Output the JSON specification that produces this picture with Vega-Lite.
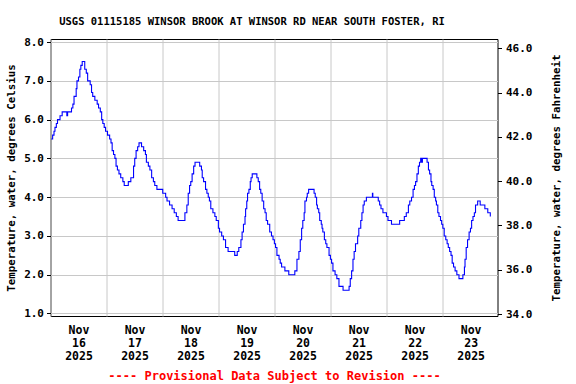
{
 "$schema": "https://vega.github.io/schema/vega-lite/v6.json",
 "width": 447,
 "height": 277,
 "autosize": {"type": "none"},
 "padding": {"left": 50.5, "top": 39, "right": 78.5, "bottom": 68},
 "background": "white",
 "title": {"text": "USGS 01115185 WINSOR BROOK AT WINSOR RD NEAR SOUTH FOSTER, RI", "font": "DejaVu Sans Mono", "fontSize": 10.5, "fontWeight": "bold", "color": "black", "anchor": "middle", "frame": "group", "dx": -22, "offset": 1, "baseline": "alphabetic"},
 "config": {"view": {"stroke": "black", "strokeWidth": 1}},
 "layer": [
  {
   "data": {"values": [
{"t":"2025-11-16T00:20","c":5.5},{"t":"2025-11-16T00:55","c":5.6},{"t":"2025-11-16T01:30","c":5.7},{"t":"2025-11-16T01:55","c":5.8},{"t":"2025-11-16T02:30","c":5.9},{"t":"2025-11-16T03:00","c":6.0},{"t":"2025-11-16T04:05","c":6.1},{"t":"2025-11-16T05:00","c":6.2},{"t":"2025-11-16T06:50","c":6.2},{"t":"2025-11-16T07:00","c":6.1},{"t":"2025-11-16T07:20","c":6.2},{"t":"2025-11-16T08:40","c":6.2},{"t":"2025-11-16T09:00","c":6.3},{"t":"2025-11-16T09:35","c":6.4},{"t":"2025-11-16T10:05","c":6.6},{"t":"2025-11-16T11:00","c":6.8},{"t":"2025-11-16T11:20","c":7.0},{"t":"2025-11-16T12:00","c":7.1},{"t":"2025-11-16T12:35","c":7.3},{"t":"2025-11-16T13:00","c":7.4},{"t":"2025-11-16T13:35","c":7.5},{"t":"2025-11-16T14:05","c":7.5},{"t":"2025-11-16T14:40","c":7.3},{"t":"2025-11-16T15:20","c":7.2},{"t":"2025-11-16T15:55","c":7.0},{"t":"2025-11-16T17:00","c":6.9},{"t":"2025-11-16T17:35","c":6.7},{"t":"2025-11-16T18:05","c":6.6},{"t":"2025-11-16T19:00","c":6.5},{"t":"2025-11-16T20:00","c":6.4},{"t":"2025-11-16T20:35","c":6.3},{"t":"2025-11-16T21:20","c":6.2},{"t":"2025-11-16T21:55","c":6.0},{"t":"2025-11-16T22:25","c":5.9},{"t":"2025-11-16T23:00","c":5.8},{"t":"2025-11-16T23:35","c":5.7},
{"t":"2025-11-17T00:25","c":5.6},{"t":"2025-11-17T01:20","c":5.5},{"t":"2025-11-17T01:55","c":5.4},{"t":"2025-11-17T02:25","c":5.2},{"t":"2025-11-17T03:00","c":5.1},{"t":"2025-11-17T03:35","c":5.0},{"t":"2025-11-17T04:05","c":4.8},{"t":"2025-11-17T04:40","c":4.7},{"t":"2025-11-17T05:20","c":4.6},{"t":"2025-11-17T06:05","c":4.5},{"t":"2025-11-17T07:00","c":4.4},{"t":"2025-11-17T07:35","c":4.3},{"t":"2025-11-17T09:00","c":4.3},{"t":"2025-11-17T09:20","c":4.4},{"t":"2025-11-17T10:05","c":4.4},{"t":"2025-11-17T10:25","c":4.5},{"t":"2025-11-17T11:20","c":4.5},{"t":"2025-11-17T11:35","c":4.8},{"t":"2025-11-17T12:05","c":5.0},{"t":"2025-11-17T12:40","c":5.2},{"t":"2025-11-17T13:20","c":5.3},{"t":"2025-11-17T13:55","c":5.4},{"t":"2025-11-17T14:40","c":5.4},{"t":"2025-11-17T15:00","c":5.3},{"t":"2025-11-17T15:55","c":5.2},{"t":"2025-11-17T16:40","c":5.1},{"t":"2025-11-17T17:05","c":4.9},{"t":"2025-11-17T17:55","c":4.8},{"t":"2025-11-17T18:35","c":4.7},{"t":"2025-11-17T19:20","c":4.5},{"t":"2025-11-17T20:05","c":4.4},{"t":"2025-11-17T20:40","c":4.3},{"t":"2025-11-17T21:35","c":4.2},{"t":"2025-11-17T23:55","c":4.2},
{"t":"2025-11-18T00:05","c":4.1},{"t":"2025-11-18T01:20","c":4.0},{"t":"2025-11-18T01:55","c":3.9},{"t":"2025-11-18T03:00","c":3.8},{"t":"2025-11-18T03:55","c":3.8},{"t":"2025-11-18T04:05","c":3.7},{"t":"2025-11-18T05:00","c":3.6},{"t":"2025-11-18T05:55","c":3.5},{"t":"2025-11-18T06:40","c":3.4},{"t":"2025-11-18T09:00","c":3.4},{"t":"2025-11-18T09:35","c":3.6},{"t":"2025-11-18T10:25","c":3.8},{"t":"2025-11-18T11:00","c":4.1},{"t":"2025-11-18T11:35","c":4.3},{"t":"2025-11-18T12:05","c":4.4},{"t":"2025-11-18T12:40","c":4.6},{"t":"2025-11-18T13:20","c":4.8},{"t":"2025-11-18T13:55","c":4.9},{"t":"2025-11-18T15:00","c":4.9},{"t":"2025-11-18T15:55","c":4.8},{"t":"2025-11-18T16:40","c":4.7},{"t":"2025-11-18T17:00","c":4.5},{"t":"2025-11-18T17:35","c":4.4},{"t":"2025-11-18T18:25","c":4.2},{"t":"2025-11-18T19:00","c":4.1},{"t":"2025-11-18T19:35","c":4.0},{"t":"2025-11-18T20:05","c":3.9},{"t":"2025-11-18T20:40","c":3.7},{"t":"2025-11-18T21:35","c":3.6},{"t":"2025-11-18T22:25","c":3.5},{"t":"2025-11-18T23:00","c":3.4},{"t":"2025-11-18T23:55","c":3.2},
{"t":"2025-11-19T00:25","c":3.1},{"t":"2025-11-19T01:20","c":3.0},{"t":"2025-11-19T02:05","c":2.9},{"t":"2025-11-19T03:00","c":2.7},{"t":"2025-11-19T04:05","c":2.6},{"t":"2025-11-19T06:05","c":2.6},{"t":"2025-11-19T06:55","c":2.5},{"t":"2025-11-19T07:35","c":2.5},{"t":"2025-11-19T08:00","c":2.6},{"t":"2025-11-19T08:40","c":2.7},{"t":"2025-11-19T09:35","c":2.9},{"t":"2025-11-19T10:05","c":3.1},{"t":"2025-11-19T10:40","c":3.3},{"t":"2025-11-19T11:20","c":3.5},{"t":"2025-11-19T11:35","c":3.7},{"t":"2025-11-19T12:05","c":3.9},{"t":"2025-11-19T12:25","c":4.1},{"t":"2025-11-19T13:00","c":4.2},{"t":"2025-11-19T13:35","c":4.4},{"t":"2025-11-19T13:55","c":4.5},{"t":"2025-11-19T14:25","c":4.6},{"t":"2025-11-19T15:55","c":4.6},{"t":"2025-11-19T16:25","c":4.5},{"t":"2025-11-19T17:00","c":4.4},{"t":"2025-11-19T17:35","c":4.2},{"t":"2025-11-19T18:05","c":4.1},{"t":"2025-11-19T18:40","c":3.9},{"t":"2025-11-19T19:20","c":3.7},{"t":"2025-11-19T19:55","c":3.6},{"t":"2025-11-19T20:25","c":3.4},{"t":"2025-11-19T21:00","c":3.3},{"t":"2025-11-19T21:55","c":3.1},{"t":"2025-11-19T22:40","c":3.0},{"t":"2025-11-19T23:20","c":2.9},{"t":"2025-11-19T23:55","c":2.8},
{"t":"2025-11-20T00:25","c":2.7},{"t":"2025-11-20T01:00","c":2.5},{"t":"2025-11-20T01:55","c":2.4},{"t":"2025-11-20T02:25","c":2.3},{"t":"2025-11-20T03:00","c":2.2},{"t":"2025-11-20T04:20","c":2.2},{"t":"2025-11-20T04:25","c":2.1},{"t":"2025-11-20T05:35","c":2.1},{"t":"2025-11-20T06:05","c":2.0},{"t":"2025-11-20T08:05","c":2.0},{"t":"2025-11-20T08:40","c":2.1},{"t":"2025-11-20T09:35","c":2.4},{"t":"2025-11-20T10:25","c":2.6},{"t":"2025-11-20T11:00","c":2.9},{"t":"2025-11-20T11:35","c":3.2},{"t":"2025-11-20T12:05","c":3.4},{"t":"2025-11-20T12:40","c":3.6},{"t":"2025-11-20T13:00","c":3.9},{"t":"2025-11-20T13:40","c":4.0},{"t":"2025-11-20T14:00","c":4.1},{"t":"2025-11-20T14:35","c":4.2},{"t":"2025-11-20T16:00","c":4.2},{"t":"2025-11-20T16:55","c":4.1},{"t":"2025-11-20T17:25","c":4.0},{"t":"2025-11-20T18:00","c":3.8},{"t":"2025-11-20T18:20","c":3.7},{"t":"2025-11-20T18:55","c":3.6},{"t":"2025-11-20T19:20","c":3.4},{"t":"2025-11-20T20:00","c":3.3},{"t":"2025-11-20T20:20","c":3.2},{"t":"2025-11-20T20:40","c":3.1},{"t":"2025-11-20T21:20","c":2.9},{"t":"2025-11-20T21:55","c":2.8},{"t":"2025-11-20T22:25","c":2.7},{"t":"2025-11-20T23:20","c":2.5},{"t":"2025-11-20T23:55","c":2.4},
{"t":"2025-11-21T00:25","c":2.3},{"t":"2025-11-21T01:00","c":2.1},{"t":"2025-11-21T01:55","c":2.0},{"t":"2025-11-21T02:40","c":1.9},{"t":"2025-11-21T03:35","c":1.7},{"t":"2025-11-21T04:40","c":1.7},{"t":"2025-11-21T05:20","c":1.6},{"t":"2025-11-21T07:35","c":1.6},{"t":"2025-11-21T07:55","c":1.7},{"t":"2025-11-21T08:25","c":1.9},{"t":"2025-11-21T09:00","c":2.1},{"t":"2025-11-21T09:35","c":2.4},{"t":"2025-11-21T10:05","c":2.6},{"t":"2025-11-21T10:40","c":2.8},{"t":"2025-11-21T11:35","c":3.0},{"t":"2025-11-21T12:05","c":3.2},{"t":"2025-11-21T12:55","c":3.4},{"t":"2025-11-21T13:25","c":3.6},{"t":"2025-11-21T13:55","c":3.8},{"t":"2025-11-21T14:25","c":3.9},{"t":"2025-11-21T15:20","c":4.0},{"t":"2025-11-21T17:40","c":4.0},{"t":"2025-11-21T17:55","c":4.1},{"t":"2025-11-21T18:05","c":4.0},{"t":"2025-11-21T19:55","c":4.0},{"t":"2025-11-21T20:25","c":3.9},{"t":"2025-11-21T21:00","c":3.8},{"t":"2025-11-21T21:35","c":3.7},{"t":"2025-11-21T22:25","c":3.6},{"t":"2025-11-21T23:20","c":3.6},{"t":"2025-11-21T23:55","c":3.5},
{"t":"2025-11-22T00:35","c":3.4},{"t":"2025-11-22T02:00","c":3.4},{"t":"2025-11-22T02:05","c":3.3},{"t":"2025-11-22T05:20","c":3.3},{"t":"2025-11-22T05:35","c":3.4},{"t":"2025-11-22T07:20","c":3.4},{"t":"2025-11-22T07:35","c":3.5},{"t":"2025-11-22T08:25","c":3.6},{"t":"2025-11-22T09:20","c":3.8},{"t":"2025-11-22T09:55","c":3.9},{"t":"2025-11-22T10:40","c":4.0},{"t":"2025-11-22T11:20","c":4.2},{"t":"2025-11-22T11:55","c":4.3},{"t":"2025-11-22T12:25","c":4.4},{"t":"2025-11-22T13:00","c":4.6},{"t":"2025-11-22T13:35","c":4.8},{"t":"2025-11-22T14:05","c":4.9},{"t":"2025-11-22T14:35","c":5.0},{"t":"2025-11-22T15:00","c":4.9},{"t":"2025-11-22T15:20","c":5.0},{"t":"2025-11-22T17:00","c":5.0},{"t":"2025-11-22T17:20","c":4.9},{"t":"2025-11-22T17:55","c":4.7},{"t":"2025-11-22T18:25","c":4.6},{"t":"2025-11-22T19:00","c":4.4},{"t":"2025-11-22T19:20","c":4.3},{"t":"2025-11-22T19:55","c":4.2},{"t":"2025-11-22T20:25","c":4.0},{"t":"2025-11-22T21:00","c":3.9},{"t":"2025-11-22T21:20","c":3.8},{"t":"2025-11-22T21:55","c":3.6},{"t":"2025-11-22T22:25","c":3.5},{"t":"2025-11-22T23:05","c":3.4},{"t":"2025-11-22T23:35","c":3.3},
{"t":"2025-11-23T00:05","c":3.2},{"t":"2025-11-23T00:40","c":3.0},{"t":"2025-11-23T01:20","c":2.9},{"t":"2025-11-23T01:55","c":2.8},{"t":"2025-11-23T02:25","c":2.7},{"t":"2025-11-23T03:00","c":2.6},{"t":"2025-11-23T03:35","c":2.5},{"t":"2025-11-23T04:05","c":2.3},{"t":"2025-11-23T04:40","c":2.2},{"t":"2025-11-23T05:20","c":2.1},{"t":"2025-11-23T06:05","c":2.0},{"t":"2025-11-23T07:00","c":1.9},{"t":"2025-11-23T08:05","c":1.9},{"t":"2025-11-23T08:40","c":2.0},{"t":"2025-11-23T09:20","c":2.2},{"t":"2025-11-23T09:35","c":2.4},{"t":"2025-11-23T10:05","c":2.7},{"t":"2025-11-23T10:40","c":2.9},{"t":"2025-11-23T11:20","c":3.1},{"t":"2025-11-23T11:55","c":3.2},{"t":"2025-11-23T12:25","c":3.4},{"t":"2025-11-23T13:00","c":3.5},{"t":"2025-11-23T13:35","c":3.6},{"t":"2025-11-23T14:05","c":3.8},{"t":"2025-11-23T15:00","c":3.9},{"t":"2025-11-23T15:55","c":3.9},{"t":"2025-11-23T16:05","c":3.8},{"t":"2025-11-23T17:55","c":3.8},{"t":"2025-11-23T18:05","c":3.7},{"t":"2025-11-23T19:00","c":3.7},{"t":"2025-11-23T19:20","c":3.6},{"t":"2025-11-23T20:05","c":3.6},{"t":"2025-11-23T20:25","c":3.5}
   ]},
   "mark": {"type": "line", "color": "#0000ff", "strokeWidth": 1.1, "interpolate": "step-after"},
   "encoding": {
    "x": {"field": "t", "type": "temporal",
     "scale": {"domain": [{"year": 2025, "month": 11, "date": 16, "hours": 0}, {"year": 2025, "month": 11, "date": 23, "hours": 23, "minutes": 30}]},
     "axis": {
      "values": [{"year": 2025, "month": 11, "date": 16}, {"year": 2025, "month": 11, "date": 17}, {"year": 2025, "month": 11, "date": 18}, {"year": 2025, "month": 11, "date": 19}, {"year": 2025, "month": 11, "date": 20}, {"year": 2025, "month": 11, "date": 21}, {"year": 2025, "month": 11, "date": 22}, {"year": 2025, "month": 11, "date": 23}],
      "grid": true, "gridColor": "#c8c8c8", "gridWidth": 1, "gridOpacity": 1, "domain": false, "ticks": true, "tickSize": 0,
      "labelExpr": "[timeFormat(datum.value, '%b'), timeFormat(datum.value, '%d'), timeFormat(datum.value, '%Y')]",
      "labelOffset": 28, "labelAlign": "center", "labelBaseline": "top", "labelPadding": 8,
      "labelFont": "DejaVu Sans Mono", "labelFontWeight": "bold", "labelFontSize": 11.5, "labelColor": "black", "labelLineHeight": 13,
      "labelOverlap": false, "labelFlush": false, "labelBound": false,
      "title": "---- Provisional Data Subject to Revision ----", "titleColor": "red", "titleFont": "DejaVu Sans Mono", "titleFontSize": 12, "titleFontWeight": "bold", "titlePadding": 9
     }
    },
    "y": {"field": "c", "type": "quantitative",
     "scale": {"domain": [0.935, 8.08], "nice": false, "zero": false},
     "axis": {
      "values": [1, 2, 3, 4, 5, 6, 7, 8], "format": ".1f",
      "grid": true, "gridColor": "#c8c8c8", "gridWidth": 1, "domain": false,
      "tickColor": "black", "tickSize": 4, "labelPadding": 3,
      "labelFont": "DejaVu Sans Mono", "labelFontWeight": "bold", "labelFontSize": 11, "labelColor": "black",
      "title": "Temperature, water, degrees Celsius", "titleFont": "DejaVu Sans Mono", "titleFontSize": 10.8, "titleFontWeight": "bold", "titleColor": "black",
      "titleAngle": -90, "titleX": -39.5, "titleY": 138.5, "titleAlign": "center", "titleBaseline": "middle"
     }
    }
   }
  },
  {
   "data": {"values": [{"f": 34}, {"f": 46}]},
   "mark": {"type": "point", "opacity": 0},
   "encoding": {
    "y": {"field": "f", "type": "quantitative",
     "scale": {"domain": [33.91, 46.42], "nice": false, "zero": false},
     "axis": {
      "orient": "right", "values": [34, 36, 38, 40, 42, 44, 46], "format": ".1f",
      "grid": false, "domain": false, "tickColor": "black", "tickSize": 4, "labelPadding": 4,
      "labelFont": "DejaVu Sans Mono", "labelFontWeight": "bold", "labelFontSize": 11, "labelColor": "black",
      "title": "Temperature, water, degrees Fahrenheit", "titleFont": "DejaVu Sans Mono", "titleFontSize": 10.8, "titleFontWeight": "bold", "titleColor": "black",
      "titleAngle": -90, "titleX": 58.5, "titleY": 138.5, "titleAlign": "center", "titleBaseline": "middle"
     }
    }
   }
  }
 ],
 "resolve": {"scale": {"y": "independent"}, "axis": {"y": "independent"}}
}
